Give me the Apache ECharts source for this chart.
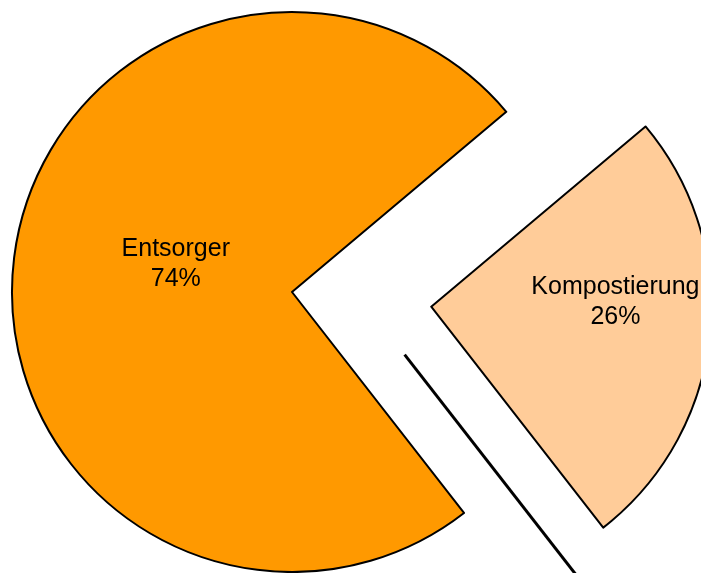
<!DOCTYPE html>
<html>
<head>
<meta charset="utf-8">
<script src="https://cdn.jsdelivr.net/npm/echarts@6/dist/echarts.min.js"></script>
<style>
  html, body { margin: 0; padding: 0; background: #fff; }
  #chart { width: 701px; height: 573px; }
</style>
</head>
<body>
<div id="chart"></div>
<script>
// data
const categories = ['Entsorger', 'Kompostierung'];
const shares = [74.4, 25.6];
const colors = ['#FF9900', '#FFCC99'];
const explodedIndex = 1;

const cx = 292, cy = 292, radius = 280;
const offset = 140;
const startAngle = 307.9;

const chart = echarts.init(document.getElementById('chart'));

// leader line runs parallel to the lower edge of the cut-out slice
const total = shares.reduce((a, b) => a + b, 0);
const kompStart = startAngle - shares[0] / total * 360;
const kompEnd = kompStart - shares[1] / total * 360;
const mid = (kompStart + kompEnd) / 2 * Math.PI / 180;
const edge = kompEnd * Math.PI / 180;
const hx = cx + offset / 2 * Math.cos(mid);
const hy = cy - offset / 2 * Math.sin(mid);

const option = {
  backgroundColor: '#fff',
  animation: false,
  series: [{
    type: 'pie',
    center: [cx, cy],
    radius: radius,
    startAngle: startAngle,
    clockwise: true,
    selectedMode: 'single',
    selectedOffset: offset,
    percentPrecision: 0,
    emphasis: { disabled: true },
    itemStyle: { borderColor: '#000', borderWidth: 2 },
    label: {
      show: true,
      position: 'inside',
      formatter: '{b}\n{d}%',
      color: '#000',
      fontFamily: 'Liberation Sans, Arial, sans-serif',
      fontSize: 25,
      lineHeight: 30
    },
    labelLine: { show: false },
    labelLayout: (p) => p.dataIndex === 0 ? { dx: 26, dy: -13 } : { dx: 42, dy: -20 },
    data: categories.map((name, i) => ({
      name: name,
      value: shares[i],
      selected: i === explodedIndex,
      itemStyle: { color: colors[i] }
    }))
  }],
  graphic: [{
    type: 'line',
    shape: {
      x1: hx + 70 * Math.cos(edge), y1: hy - 70 * Math.sin(edge),
      x2: hx + 400 * Math.cos(edge), y2: hy - 400 * Math.sin(edge)
    },
    style: { stroke: '#000', lineWidth: 3 }
  }]
};

chart.setOption(option);
window.addEventListener('resize', () => chart.resize());
</script>
</body>
</html>
